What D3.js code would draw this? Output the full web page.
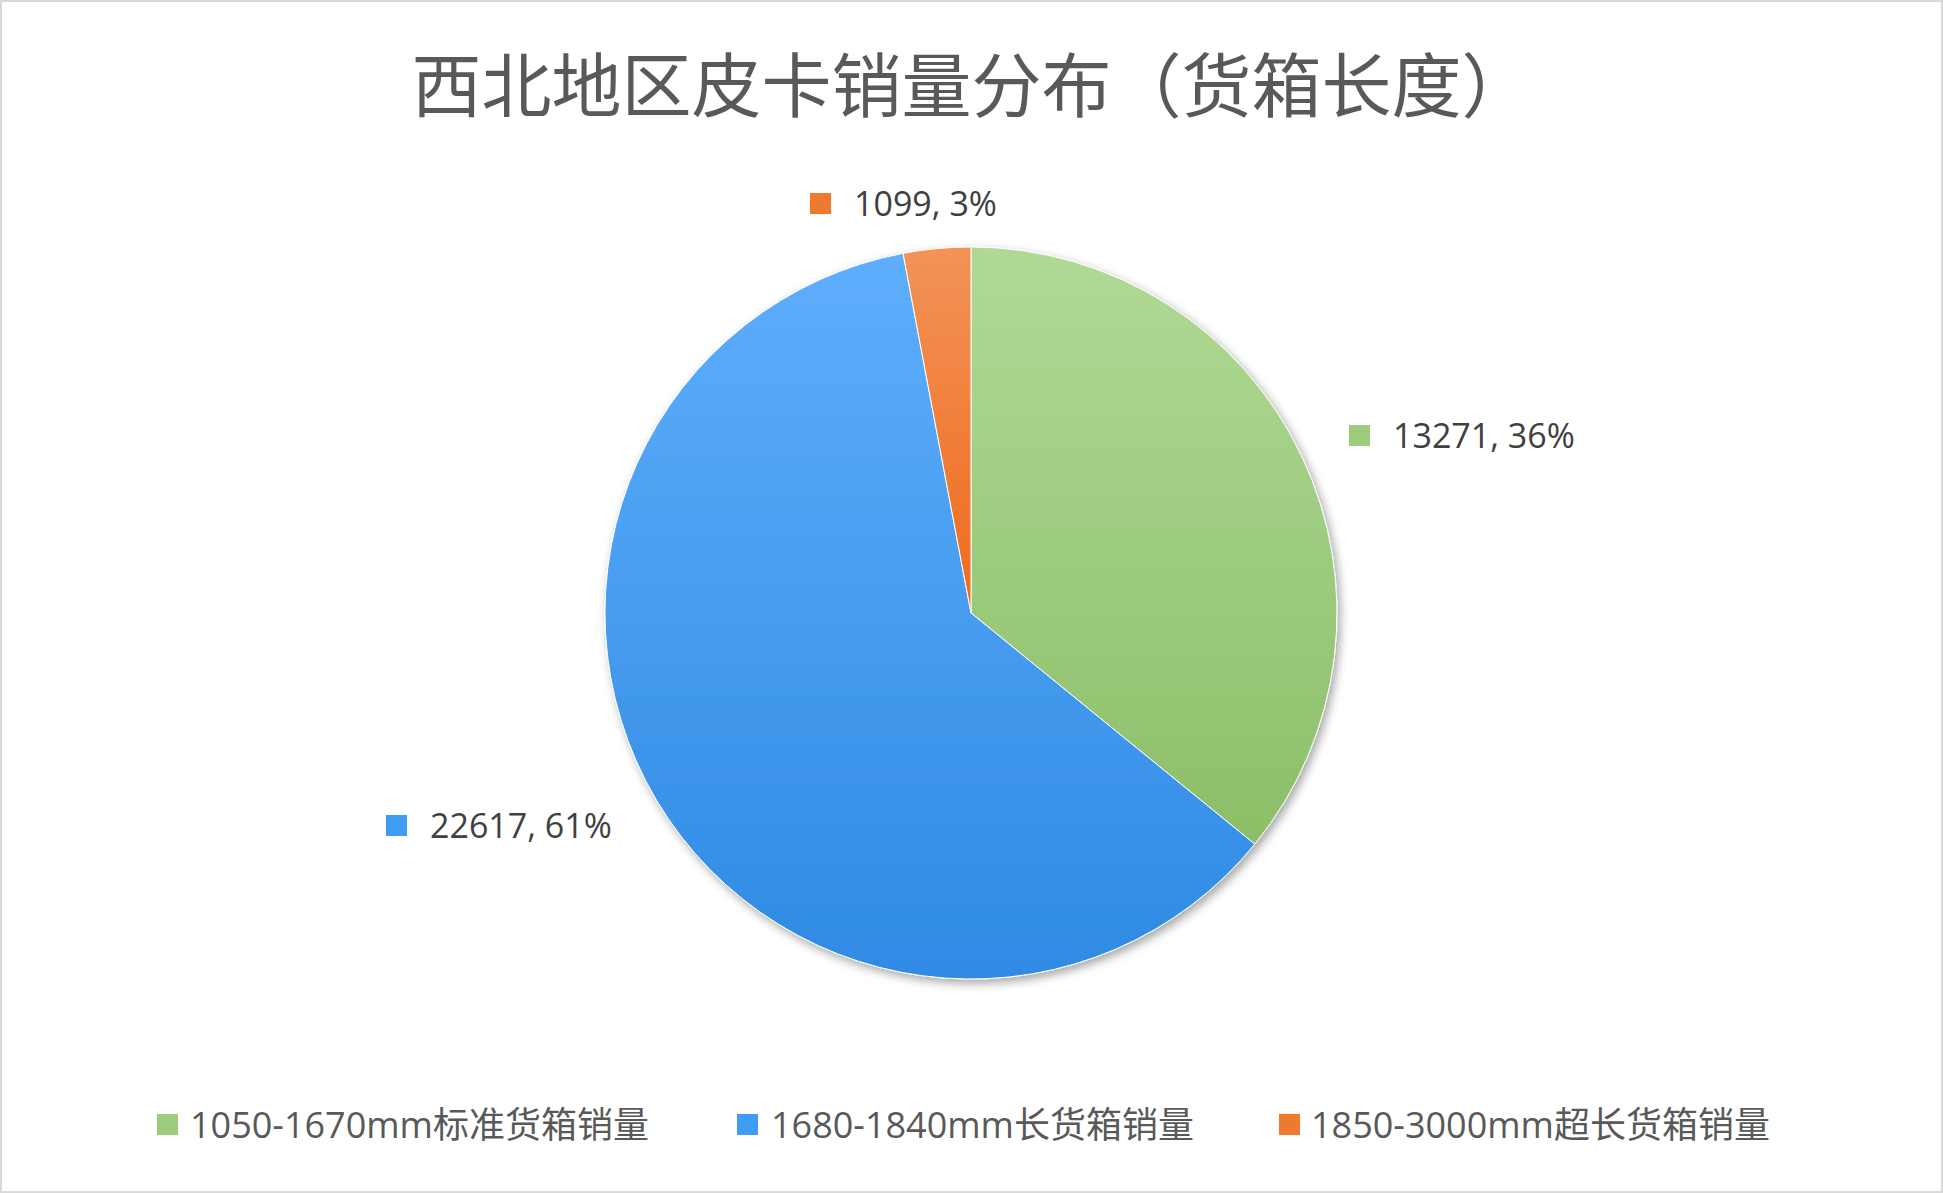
<!DOCTYPE html>
<html><head><meta charset="utf-8">
<script src="https://cdn.jsdelivr.net/npm/d3@7"></script>
<style>body{margin:0;background:#fff}svg{display:block}</style>
</head><body>
<script>
const categories = ["1050-1670mm标准货箱销量","1680-1840mm长货箱销量","1850-3000mm超长货箱销量"];
const values = [13271, 22617, 1099];
const percents = ["36%","61%","3%"];
const colorsTop = ["#b0d996","#5eaefc","#f39358"];
const colorsBot = ["#8cbf68","#2f8ae3","#ee6a1c"];
const legendColors = ["#9ccc7c","#3f9cf0","#ef7a2f"];
const W=1943,H=1193, cx=971, cy=613, R=366;
const svg=d3.select("body").append("svg").attr("width",W).attr("height",H);
const defs=svg.append("defs");
const f=defs.append("filter").attr("id","sh").attr("x","-20%").attr("y","-20%").attr("width","140%").attr("height","140%");
f.append("feDropShadow").attr("dx",3).attr("dy",4).attr("stdDeviation",5).attr("flood-color","#000").attr("flood-opacity",0.35);
values.forEach((v,i)=>{const g=defs.append("linearGradient").attr("id","g"+i).attr("x1",0).attr("y1",0).attr("x2",0).attr("y2",1);
 g.append("stop").attr("offset","0%").attr("stop-color",colorsTop[i]);
 g.append("stop").attr("offset","100%").attr("stop-color",colorsBot[i]);});
svg.append("rect").attr("x",1).attr("y",1).attr("width",W-2).attr("height",H-2).attr("fill","#fff").attr("stroke","#d9d9d9").attr("stroke-width",2);
svg.append("text").attr("x",W/2).attr("y",112).attr("text-anchor","middle").attr("font-family","Noto Sans CJK SC").attr("font-size",70).attr("fill","#595959").text("西北地区皮卡销量分布（货箱长度）");
const pie=d3.pie().sort(null).value(d=>d);
const arc=d3.arc().innerRadius(0).outerRadius(R);
const gp=svg.append("g").attr("transform",`translate(${cx},${cy})`).attr("filter","url(#sh)");
gp.selectAll("path").data(pie(values)).join("path").attr("d",arc).attr("fill",(d,i)=>`url(#g${i})`).attr("stroke","#fff").attr("stroke-width",1);
// data labels
const lab=[[1359,436],[396,826],[820,204]];
const font="Open Sans, Noto Sans CJK SC";
values.forEach((v,i)=>{const [x,y]=lab[i];
 svg.append("rect").attr("x",x-10).attr("y",y-11).attr("width",21).attr("height",21).attr("fill",legendColors[i]);
 svg.append("text").attr("x",x+34).attr("y",y+12).attr("font-family",font).attr("font-size",34).attr("fill","#404040").text(`${v}, ${percents[i]}`);});
// legend
const leg=[[167,190],[747,771],[1289,1311]];
categories.forEach((c,i)=>{const [mx,tx]=leg[i];
 svg.append("rect").attr("x",mx-10).attr("y",1114).attr("width",21).attr("height",21).attr("fill",legendColors[i]);
 svg.append("text").attr("x",tx).attr("y",1138).attr("font-family",font).attr("font-size",36).attr("fill","#595959").text(c);});
</script>
</body></html>
